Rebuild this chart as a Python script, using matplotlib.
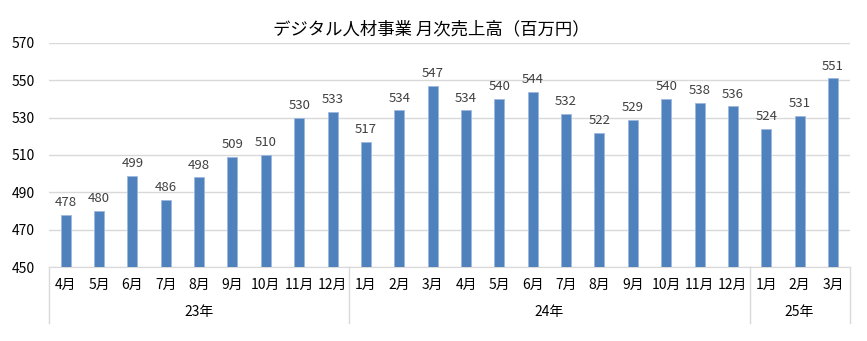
import matplotlib.pyplot as plt

plt.rcParams['font.family'] = ['Noto Sans CJK JP', 'DejaVu Sans']

months = ['4月', '5月', '6月', '7月', '8月', '9月', '10月', '11月', '12月',
          '1月', '2月', '3月', '4月', '5月', '6月', '7月', '8月', '9月', '10月', '11月', '12月',
          '1月', '2月', '3月']
years = ['23年', '24年', '25年']
year_counts = [9, 12, 3]
sales = [478, 480, 499, 486, 498, 509, 510, 530, 533,
         517, 534, 547, 534, 540, 544, 532, 522, 529, 540, 538, 536,
         524, 531, 551]

fig = plt.figure(figsize=(8.67, 3.41), dpi=100)
ax = fig.add_axes([0.0565, 0.217, 0.9235, 0.657])

x = list(range(len(sales)))
ax.bar(x, sales, width=0.3, color='#4f81bd', edgecolor='#9db9de', linewidth=0.6, zorder=3)
for xi, v in zip(x, sales):
    ax.text(xi, v + 3, str(v), ha='center', va='bottom', fontsize=9.5, color='#404040')

ax.set_ylim(450, 570)
ax.set_yticks(range(450, 571, 20))
ax.set_xlim(-0.5, len(sales) - 0.5)
ax.yaxis.grid(True, color='#d9d9d9', linewidth=1)
ax.set_axisbelow(True)
for s in ['top', 'right', 'left']:
    ax.spines[s].set_visible(False)
ax.spines['bottom'].set_color('#d9d9d9')
ax.tick_params(axis='y', length=0, labelsize=10, colors='#000000', pad=10)
ax.set_xticks(x)
ax.set_xticklabels(months, fontsize=10)
ax.tick_params(axis='x', length=0, pad=8)

# year group labels and separators
start = 0
bounds = [-0.5]
for yr, n in zip(years, year_counts):
    mid = start + (n - 1) / 2
    ax.text(mid, -0.2, yr, transform=ax.get_xaxis_transform(), ha='center', va='center', fontsize=10)
    start += n
    bounds.append(start - 0.5)
for b in bounds:
    ax.plot([b, b], [0, -0.25], transform=ax.get_xaxis_transform(), color='#d9d9d9',
            linewidth=1, clip_on=False)

fig.text(0.497, 0.915, 'デジタル人材事業 月次売上高（百万円）', ha='center', va='center', fontsize=12.5)

plt.savefig('out.png', dpi=100)
